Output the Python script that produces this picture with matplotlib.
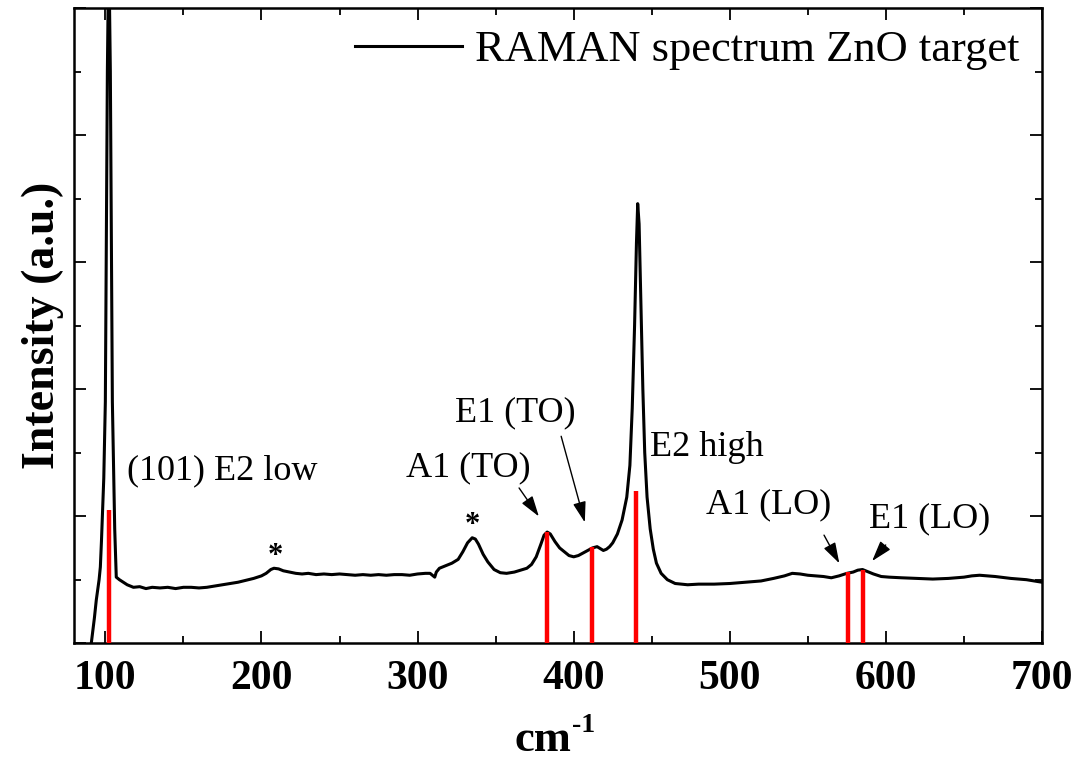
import matplotlib
matplotlib.use("Agg")
import matplotlib.pyplot as plt
from matplotlib.ticker import MultipleLocator

plt.rcParams['font.family'] = ['Liberation Serif', 'DejaVu Serif']

# Raman shift (cm-1) and intensity (a.u.)
shift = [91, 93, 94.2, 96, 96.8, 97.5, 99, 100, 100.6, 101.3, 102.2, 103.2, 103.9, 104.5, 106, 107, 109,
         111.5, 114, 118, 122, 126, 130, 135, 140, 145, 150, 155, 160, 165, 170, 175, 180, 185, 190,
         195, 200, 203, 206, 208, 211, 214, 218, 222, 226, 230, 235, 240, 245, 250, 255, 260, 265,
         270, 275, 280, 285, 290, 295, 300, 305, 308, 310, 311, 312, 314, 318, 322, 326, 329, 332,
         335, 337, 339, 342, 345, 349, 353, 357, 362, 366, 370, 373, 376, 379, 381, 383, 385, 388,
         391, 394, 397, 400, 403, 406, 409, 412, 415, 417, 419, 421, 423, 425, 428, 431, 434, 436,
         437.5, 439, 440.2, 441, 441.9, 443, 444.3, 445.5, 447, 449, 451, 453, 456, 460, 465, 473,
         480, 490, 500, 510, 520, 528, 535, 540, 545, 550, 555, 560, 565, 570, 575, 579, 582, 585,
         588, 592, 597, 602, 610, 620, 630, 640, 650, 655, 660, 665, 670, 680, 690, 700]
intensity = [0.0, 0.2, 0.34, 0.5, 0.6, 0.8, 1.3, 1.9, 3.1, 4.5, 5.5, 4.5, 3.1, 1.9, 0.9, 0.52, 0.5,
             0.48, 0.46, 0.44, 0.445, 0.43, 0.44, 0.435, 0.44, 0.43, 0.44, 0.44, 0.435, 0.44, 0.45,
             0.46, 0.47, 0.48, 0.495, 0.51, 0.53, 0.55, 0.58, 0.59, 0.585, 0.57, 0.56, 0.55, 0.545,
             0.55, 0.54, 0.545, 0.54, 0.545, 0.54, 0.535, 0.54, 0.535, 0.54, 0.535, 0.54, 0.54, 0.535,
             0.545, 0.55, 0.55, 0.53, 0.52, 0.56, 0.59, 0.61, 0.63, 0.66, 0.72, 0.79, 0.83, 0.82, 0.78,
             0.7, 0.64, 0.58, 0.555, 0.55, 0.56, 0.575, 0.59, 0.62, 0.68, 0.78, 0.85, 0.875, 0.86, 0.8,
             0.75, 0.72, 0.69, 0.68, 0.69, 0.71, 0.73, 0.75, 0.76, 0.745, 0.73, 0.74, 0.76, 0.79, 0.86,
             0.97, 1.15, 1.4, 1.85, 2.5, 3.15, 3.46, 3.3, 2.7, 2.0, 1.5, 1.15, 0.9, 0.74, 0.63, 0.55,
             0.5, 0.47, 0.46, 0.465, 0.465, 0.47, 0.48, 0.49, 0.51, 0.53, 0.55, 0.545, 0.535, 0.53,
             0.525, 0.515, 0.53, 0.55, 0.56, 0.575, 0.58, 0.565, 0.545, 0.525, 0.52, 0.515, 0.51, 0.505,
             0.51, 0.52, 0.53, 0.535, 0.53, 0.525, 0.51, 0.5, 0.48]

# Reference mode positions (red bars)
mode_pos = [102.5, 383, 412, 440, 576, 585]
mode_height = [1.05, 0.875, 0.76, 1.2, 0.56, 0.575]

fig = plt.figure(figsize=(10.9, 7.63), dpi=100)
ax = fig.add_axes([0.068, 0.157, 0.888, 0.8325])

ax.plot(shift, intensity, color='black', lw=2.2, label='RAMAN spectrum ZnO target', zorder=2)
ax.vlines(mode_pos, 0, mode_height, colors='#ff0000', lw=3.2, zorder=3)

ax.set_xlim(80, 700)
ax.set_ylim(0, 5)
ax.xaxis.set_major_locator(MultipleLocator(100))
ax.xaxis.set_minor_locator(MultipleLocator(50))
ax.yaxis.set_major_locator(MultipleLocator(1))
ax.yaxis.set_minor_locator(MultipleLocator(0.5))
ax.tick_params(which='both', direction='in', top=True, right=True, width=1.3)
ax.tick_params(which='major', length=8.5)
ax.tick_params(which='minor', length=5)
ax.tick_params(axis='x', which='major', pad=12, labelsize=30)
ax.set_yticklabels([])
for lab in ax.get_xticklabels():
    lab.set_fontweight('bold')
for s in ax.spines.values():
    s.set_linewidth(1.8)

# x-axis label "cm-1" with a raised hyphen-one
fig.text(571 / 1090, 1 - 751 / 763, 'cm', fontsize=32, fontweight='bold',
         ha='right', va='baseline')
fig.text(572 / 1090, 1 - 732 / 763, '-1', fontsize=20, fontweight='bold',
         ha='left', va='baseline')
ax.set_ylabel('Intensity (a.u.)', fontsize=33, fontweight='bold', labelpad=4)

fs = 26
ax.text(114, 1.36, '(101) E2 low', fontsize=fs, va='center', ha='left')
ax.text(292.5, 1.38, 'A1 (TO)', fontsize=fs, va='center', ha='left')
ax.text(324, 1.81, 'E1 (TO)', fontsize=fs, va='center', ha='left')
ax.text(449, 1.54, 'E2 high', fontsize=fs, va='center', ha='left')
ax.text(484.5, 1.09, 'A1 (LO)', fontsize=fs, va='center', ha='left')
ax.text(589, 0.98, 'E1 (LO)', fontsize=fs, va='center', ha='left')
ax.text(209, 0.68, '*', fontsize=22, fontweight='bold', va='center', ha='center')
ax.text(335, 0.93, '*', fontsize=22, fontweight='bold', va='center', ha='center')

arrow = dict(arrowstyle='-|>,head_length=0.7,head_width=0.22', color='black', lw=1.0,
             mutation_scale=18)
ax.annotate('', xy=(378.7, 0.98), xytext=(364, 1.24), arrowprops=arrow)
ax.annotate('', xy=(407.6, 0.93), xytext=(391.5, 1.65), arrowprops=arrow)
ax.annotate('', xy=(571, 0.61), xytext=(559.5, 0.87), arrowprops=arrow)
ax.annotate('', xy=(590, 0.63), xytext=(601, 0.79), arrowprops=arrow)

ax.legend(loc='upper right', frameon=False, fontsize=32, handlelength=2.4,
          handletextpad=0.3, borderaxespad=0.2, borderpad=0.3)

fig.savefig('out.png', dpi=100)
